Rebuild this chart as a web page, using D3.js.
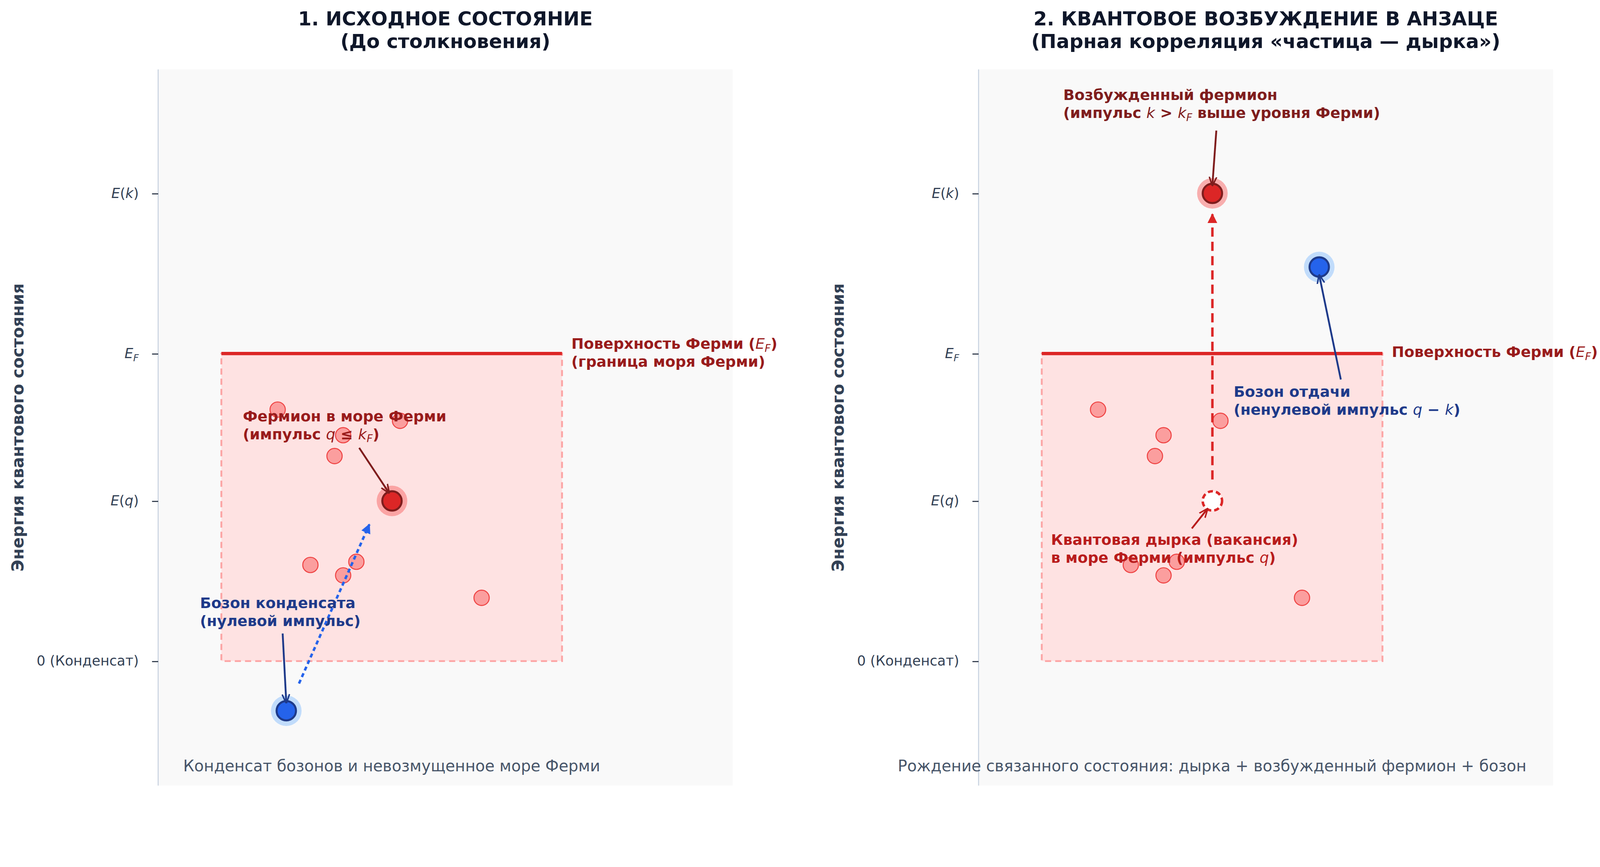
<!DOCTYPE html>
<html><head><meta charset="utf-8">
<script src="https://cdn.jsdelivr.net/npm/d3@7"></script>
<style>html,body{margin:0;height:100%;overflow:hidden;background:#fff}svg{display:block}text{font-family:"DejaVu Sans",sans-serif}</style>
</head><body>
<svg id="c" style="width:100vw;height:100vh" viewBox="0 0 1568 780" preserveAspectRatio="xMidYMin meet"></svg>
<script>
// energy levels
var levelNames = ["0 (Конденсат)", "E(q)", "E_F", "E(k)"];
var levelValues = [0, 1.0, 1.92, 2.92];
// background fermions in the Fermi sea
var seaX = [2.08, 3.22, 4.21, 3.07, 2.65, 3.45, 3.22, 5.63];
var seaY = [1.57, 1.41, 1.50, 1.28, 0.60, 0.62, 0.535, 0.395];
// Fermi sea box
var seaBox = [1.1, 7.03];
// key particles [x, y]
var boson0 = [2.23, -0.31], fermion0 = [4.07, 1.0];
var hole1 = [4.07, 1.0], fermion1 = [4.07, 2.92], boson1 = [5.93, 2.46];

var svg = d3.select("#c");
var panelW = 563, topY = 68, botY = 770;
var y = d3.scaleLinear().domain([-0.777, 3.694]).range([botY, topY]);

function mathText(sel, s) {
  if (s === "E_F") {
    sel.append("tspan").attr("font-style", "italic").text("E");
    sel.append("tspan").attr("font-style", "italic").attr("font-size", "0.7em").attr("dy", 3).text("F");
  } else if (/^E\(.\)$/.test(s)) {
    sel.append("tspan").attr("font-style", "italic").text("E");
    sel.append("tspan").text("(");
    sel.append("tspan").attr("font-style", "italic").text(s[2]);
    sel.append("tspan").text(")");
  } else sel.text(s);
}

svg.append("defs").html(
  '<marker id="ar" viewBox="0 0 10 10" refX="9" refY="5" markerWidth="5" markerHeight="5" orient="auto"><path d="M0,1L10,5L0,9" fill="none" stroke="context-stroke" stroke-width="1.6"/></marker>' +
  '<marker id="an" viewBox="0 0 10 10" refX="9" refY="5" markerWidth="4" markerHeight="4" orient="auto"><path d="M0,0L10,5L0,10z" fill="context-stroke"/></marker>');

function panel(x0, title1, title2, caption) {
  var g = svg.append("g");
  var x = d3.scaleLinear().domain([0, 10]).range([x0, x0 + panelW]);
  g.append("rect").attr("x", x0).attr("y", topY).attr("width", panelW).attr("height", botY - topY).attr("fill", "#f9f9f9");
  var ax = g.append("g").attr("transform", "translate(" + x0 + ",0)")
    .call(d3.axisLeft(y).tickValues(levelValues).tickSize(6).tickFormat(""));
  ax.select(".domain").attr("stroke", "#c8d2e0").attr("d", "M0," + topY + "V" + botY);
  ax.selectAll(".tick line").attr("stroke", "#1e293b");
  levelValues.forEach(function (v, i) {
    var t = g.append("text").attr("x", x0 - 19).attr("y", y(v) + 4.5).attr("text-anchor", "end")
      .attr("font-size", 13.5).attr("fill", "#334155");
    mathText(t, levelNames[i]);
  });
  g.append("text").attr("transform", "translate(" + (x0 - 132) + "," + 419 + ") rotate(-90)")
    .attr("text-anchor", "middle").attr("font-size", 16).attr("font-weight", "bold").attr("fill", "#334155")
    .text("Энергия квантового состояния");
  var cx = x0 + panelW / 2;
  g.append("text").attr("x", cx).attr("y", 25).attr("text-anchor", "middle").attr("font-size", 19)
    .attr("font-weight", "bold").attr("fill", "#0f172a").text(title1);
  g.append("text").attr("x", cx).attr("y", 47).attr("text-anchor", "middle").attr("font-size", 19)
    .attr("font-weight", "bold").attr("fill", "#0f172a").text(title2);
  g.append("text").attr("x", x((seaBox[0] + seaBox[1]) / 2)).attr("y", 756).attr("text-anchor", "middle").attr("font-size", 15.3)
    .attr("fill", "#475569").text(caption);
  // Fermi sea
  g.append("rect").attr("x", x(seaBox[0])).attr("y", y(levelValues[2])).attr("width", x(seaBox[1]) - x(seaBox[0]))
    .attr("height", y(0) - y(levelValues[2])).attr("fill", "#fee2e2").attr("stroke", "#fca5a5")
    .attr("stroke-width", 1.8).attr("stroke-dasharray", "6,4");
  g.append("line").attr("x1", x(seaBox[0])).attr("x2", x(seaBox[1])).attr("y1", y(levelValues[2])).attr("y2", y(levelValues[2]))
    .attr("stroke", "#dc2626").attr("stroke-width", 3.2);
  g.selectAll(".sea").data(seaX).join("circle").attr("cx", function (d) { return x(d); })
    .attr("cy", function (d, i) { return y(seaY[i]); }).attr("r", 7.5)
    .attr("fill", "#f87171").attr("fill-opacity", 0.6).attr("stroke", "#ef4444").attr("stroke-width", 1);
  return {g: g, x: x};
}

function particle(g, px, py, kind) {
  var fill = kind === "b" ? "#2563eb" : "#dc2626", st = kind === "b" ? "#1e3a8a" : "#7f1d1d",
      halo = kind === "b" ? "#93c5fd" : "#f87171";
  g.append("circle").attr("cx", px).attr("cy", py).attr("r", 15).attr("fill", halo).attr("opacity", 0.55);
  g.append("circle").attr("cx", px).attr("cy", py).attr("r", 9.5).attr("fill", fill).attr("stroke", st).attr("stroke-width", 2);
}
function arrow(g, x1, y1, x2, y2, col) {
  g.append("line").attr("x1", x1).attr("y1", y1).attr("x2", x2).attr("y2", y2).attr("stroke", col)
    .attr("stroke-width", 1.8).attr("marker-end", "url(#ar)");
}
function label(g, xx, yy, lines, col) {
  lines.forEach(function (l, i) {
    var t = g.append("text").attr("x", xx).attr("y", yy + i * 17.5).attr("font-size", 14.5).attr("font-weight", "bold")
      .attr("fill", col);
    l.forEach(function (p) {
      var s = t.append("tspan").text(p[0]);
      if (p[1]) s.attr("font-style", "italic").attr("font-weight", "normal");
      if (p[2]) s.attr("font-size", "0.7em").attr("dy", 3);
      if (p[3]) s.attr("dy", -3);
    });
  });
}

// Left panel
var L = panel(155, "1. ИСХОДНОЕ СОСТОЯНИЕ", "(До столкновения)", "Конденсат бозонов и невозмущенное море Ферми");
var lx = L.x, lg = L.g;
lg.append("line").attr("x1", 293).attr("y1", 670).attr("x2", 362).attr("y2", 514).attr("stroke", "#2563eb")
  .attr("stroke-width", 2.4).attr("stroke-dasharray", "4,3").attr("marker-end", "url(#an)");
particle(lg, lx(fermion0[0]), y(fermion0[1]), "f");
particle(lg, lx(boson0[0]), y(boson0[1]), "b");
arrow(lg, 352, 439, lx(fermion0[0]) - 3, y(fermion0[1]) - 8, "#7f1d1d");
arrow(lg, 277, 621, lx(boson0[0]), y(boson0[1]) - 8, "#1e3a8a");
label(lg, 238, 413, [[["Фермион в море Ферми"]], [["(импульс "], ["q", 1], [" ≤ "], ["k", 1], ["F", 1, 1], [")", 0, 0, 1]]], "#991b1b");
label(lg, 196, 596, [[["Бозон конденсата"]], [["(нулевой импульс)"]]], "#1e3a8a");
label(lg, 560, 342, [[["Поверхность Ферми ("], ["E", 1], ["F", 1, 1], [")", 0, 0, 1]], [["(граница моря Ферми)"]]], "#991b1b");

// Right panel
var R = panel(959, "2. КВАНТОВОЕ ВОЗБУЖДЕНИЕ В АНЗАЦЕ", "(Парная корреляция «частица — дырка»)", "Рождение связанного состояния: дырка + возбужденный фермион + бозон");
var rx = R.x, rg = R.g;
rg.append("line").attr("x1", rx(hole1[0])).attr("y1", 470).attr("x2", rx(hole1[0])).attr("y2", 210).attr("stroke", "#dc2626")
  .attr("stroke-width", 2.4).attr("stroke-dasharray", "9,5").attr("marker-end", "url(#an)");
rg.append("circle").attr("cx", rx(hole1[0])).attr("cy", y(hole1[1])).attr("r", 9.5).attr("fill", "#fff")
  .attr("stroke", "#dc2626").attr("stroke-width", 2.4).attr("stroke-dasharray", "5,3");
particle(rg, rx(fermion1[0]), y(fermion1[1]), "f");
particle(rg, rx(boson1[0]), y(boson1[1]), "b");
arrow(rg, 1192, 128, rx(fermion1[0]), y(fermion1[1]) - 8, "#7f1d1d");
arrow(rg, 1314, 372, rx(boson1[0]), y(boson1[1]) + 8, "#1e3a8a");
arrow(rg, 1168, 518, rx(hole1[0]) - 5, y(hole1[1]) + 8, "#b91c1c");
label(rg, 1042, 98, [[["Возбужденный фермион"]], [["(импульс "], ["k", 1], [" > "], ["k", 1], ["F", 1, 1], [" выше уровня Ферми)", 0, 0, 1]]], "#7f1d1d");
label(rg, 1209, 389, [[["Бозон отдачи"]], [["(ненулевой импульс "], ["q", 1], [" − "], ["k", 1], [")"]]], "#1e3a8a");
label(rg, 1030, 534, [[["Квантовая дырка (вакансия)"]], [["в море Ферми (импульс "], ["q", 1], [")"]]], "#b91c1c");
label(rg, 1364, 350, [[["Поверхность Ферми ("], ["E", 1], ["F", 1, 1], [")", 0, 0, 1]]], "#991b1b");
</script>
</body></html>
